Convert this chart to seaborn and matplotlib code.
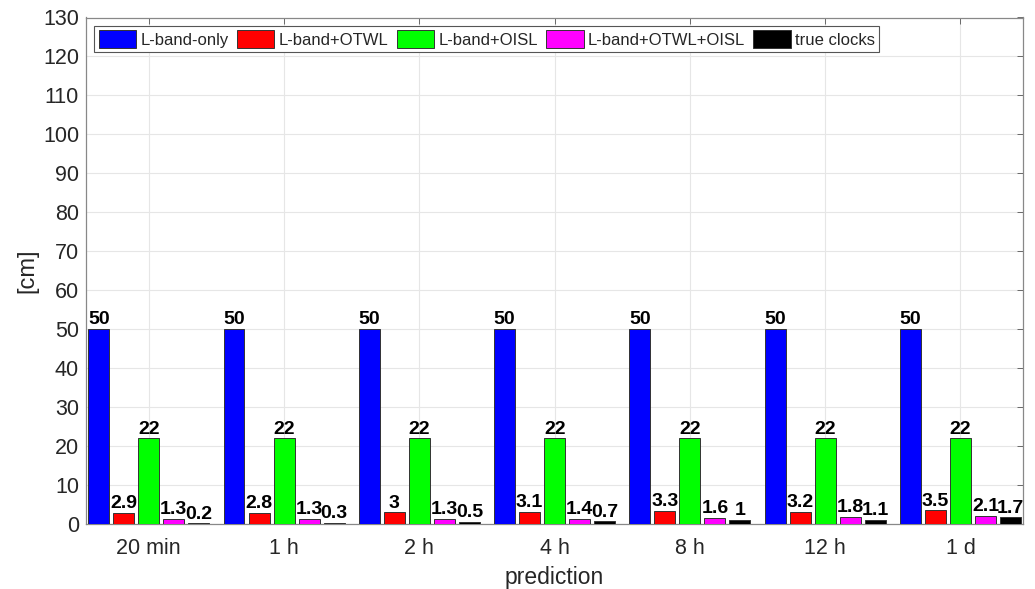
import matplotlib
matplotlib.use("Agg")
import matplotlib.pyplot as plt
import seaborn as sns
import pandas as pd

# Prediction horizons and clock error per configuration [cm]
horizons = ["20 min", "1 h", "2 h", "4 h", "8 h", "12 h", "1 d"]
series_names = ["L-band-only", "L-band+OTWL", "L-band+OISL", "L-band+OTWL+OISL", "true clocks"]
lband_only = [50, 50, 50, 50, 50, 50, 50]
lband_otwl = [2.9, 2.8, 3, 3.1, 3.3, 3.2, 3.5]
lband_oisl = [22, 22, 22, 22, 22, 22, 22]
lband_otwl_oisl = [1.3, 1.3, 1.3, 1.4, 1.6, 1.8, 2.1]
true_clocks = [0.2, 0.3, 0.5, 0.7, 1, 1.1, 1.7]
series_colors = ["#0000ff", "#ff0000", "#00ff00", "#ff00ff", "#000000"]

rows = []
for name, vals in zip(series_names, [lband_only, lband_otwl, lband_oisl, lband_otwl_oisl, true_clocks]):
    for h, v in zip(horizons, vals):
        rows.append({"prediction": h, "config": name, "value": v})
df = pd.DataFrame(rows)

sns.set_style("white")
plt.rcParams["font.family"] = ["Liberation Sans", "DejaVu Sans"]

fig = plt.figure(figsize=(10.35, 5.89), dpi=100)
ax = fig.add_axes([86 / 1035, 1 - 524 / 589, (1023 - 86) / 1035, (524 - 17.5) / 589])

sns.barplot(data=df, x="prediction", y="value", hue="config", order=horizons,
            hue_order=series_names, palette=series_colors, width=0.925, gap=0.162,
            saturation=1, edgecolor="#333333", linewidth=0.7, ax=ax, zorder=3)

for cont in ax.containers:
    vals = [b.get_height() for b in cont]
    ax.bar_label(cont, labels=[f"{v:g}" for v in vals], fontweight="bold",
                 fontsize=14, padding=0.5, color="black")

ax.set_xlim(-0.464, 6.462)
ax.set_ylim(0, 130)
ax.set_yticks(range(0, 131, 10))
ax.set_xlabel("prediction", fontsize=16.5, color="#262626", labelpad=5)
ax.set_ylabel("[cm]", fontsize=17, color="#262626", labelpad=3)

ax.grid(True, color="#e6e6e6", linewidth=0.8, zorder=0)
ax.set_axisbelow(True)
ax.tick_params(axis="both", direction="in", length=4, width=0.6, color="#555555",
               labelsize=15.5, labelcolor="#262626", top=True, right=True, pad=5)
ax.tick_params(axis="x", pad=10)
for s in ax.spines.values():
    s.set_color("#888888")
    s.set_linewidth(0.9)

leg = ax.legend(loc="upper left", ncol=5, fontsize=12, frameon=True, fancybox=False,
                edgecolor="#555555", framealpha=1, borderpad=0.25, handlelength=2.25,
                handleheight=1.3, handletextpad=0.25, columnspacing=0.5,
                borderaxespad=0.5, title=None)
leg.get_frame().set_linewidth(0.8)
for h in leg.legend_handles:
    h.set_edgecolor("#333333")

fig.savefig("out.png", dpi=100)
